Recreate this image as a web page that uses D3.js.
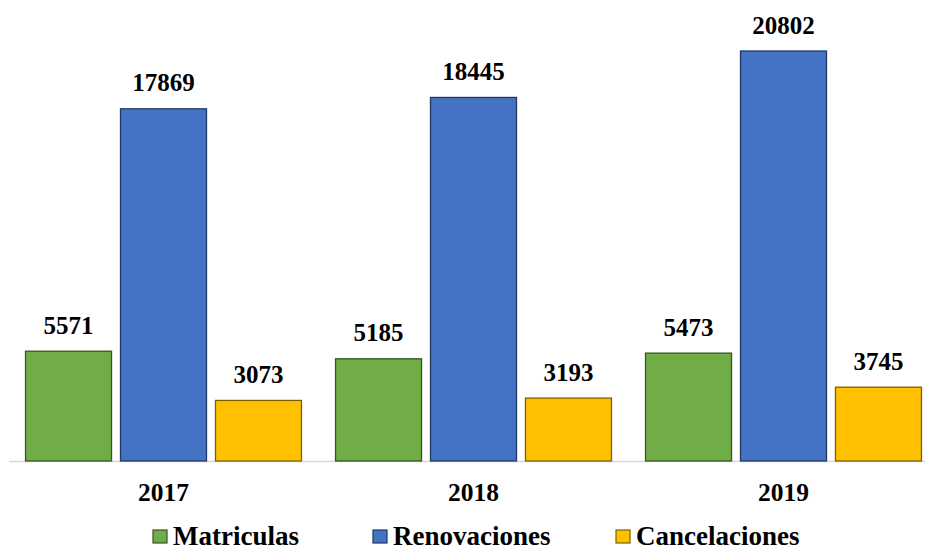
<!DOCTYPE html>
<html><head><meta charset="utf-8">
<script src="https://cdn.jsdelivr.net/npm/d3@7"></script>
<style>body{margin:0;background:#fff}svg{display:block}svg text{font-family:"Liberation Serif","Times New Roman",serif;font-weight:bold}</style>
</head><body>
<svg id="c" width="925" height="550"></svg>
<script>
const years = ["2017", "2018", "2019"];
const seriesNames = ["Matriculas", "Renovaciones", "Cancelaciones"];
const matriculas = [5571, 5185, 5473];
const renovaciones = [17869, 18445, 20802];
const cancelaciones = [3073, 3193, 3745];
const fills = ["#70ad47", "#4472c4", "#ffc000"];
const strokes = ["#375623", "#1f3864", "#7f6000"];

const values = [matriculas, renovaciones, cancelaciones];
const svg = d3.select("#c");
const font = "Liberation Serif, Times New Roman, serif";

const x0 = d3.scaleBand().domain(years).range([8.5, 938.5]).paddingInner(0).paddingOuter(0);
const x1 = d3.scaleBand().domain(seriesNames).range([0, x0.bandwidth()]).paddingInner(0.084).paddingOuter(0.174);
const y = d3.scaleLinear().domain([0, 22000]).range([461, 27.4]);

svg.append("line").attr("x1", 9).attr("x2", 925).attr("y1", 461.5).attr("y2", 461.5)
  .attr("stroke", "#d9d9d9").attr("stroke-width", 1.5);

const g = svg.append("g");
years.forEach((yr, i) => {
  seriesNames.forEach((s, j) => {
    const v = values[j][i];
    const bx = x0(yr) + x1(s);
    g.append("rect").attr("x", bx + 0.5).attr("y", y(v)).attr("width", x1.bandwidth() - 1)
      .attr("height", y(0) - y(v)).attr("fill", fills[j]).attr("stroke", strokes[j]).attr("stroke-width", 1.3);
    g.append("text").attr("x", bx + x1.bandwidth() / 2).attr("y", y(v) - 17.5)
      .attr("text-anchor", "middle").style("font-family", font).style("font-weight", "bold")
      .style("font-size", "25px").attr("fill", "#000").text(v);
  });
});

const xAxis = svg.append("g").attr("transform", "translate(0,461)")
  .call(d3.axisBottom(x0).tickSize(0).tickPadding(0));
xAxis.select(".domain").remove();
xAxis.selectAll("text").style("font-family", font).style("font-weight", "bold")
  .style("font-size", "25.5px").attr("fill", "#000").attr("dy", 0).attr("y", 40);

const legX = [153, 373, 616];
seriesNames.forEach((s, j) => {
  svg.append("rect").attr("x", legX[j]).attr("y", 530).attr("width", 14).attr("height", 13)
    .attr("fill", fills[j]).attr("stroke", strokes[j]).attr("stroke-width", 1.2);
  svg.append("text").attr("x", legX[j] + 20).attr("y", 545).style("font-family", font)
    .style("font-weight", "bold").style("font-size", "27px").attr("fill", "#000").text(s);
});
</script>
</body></html>
